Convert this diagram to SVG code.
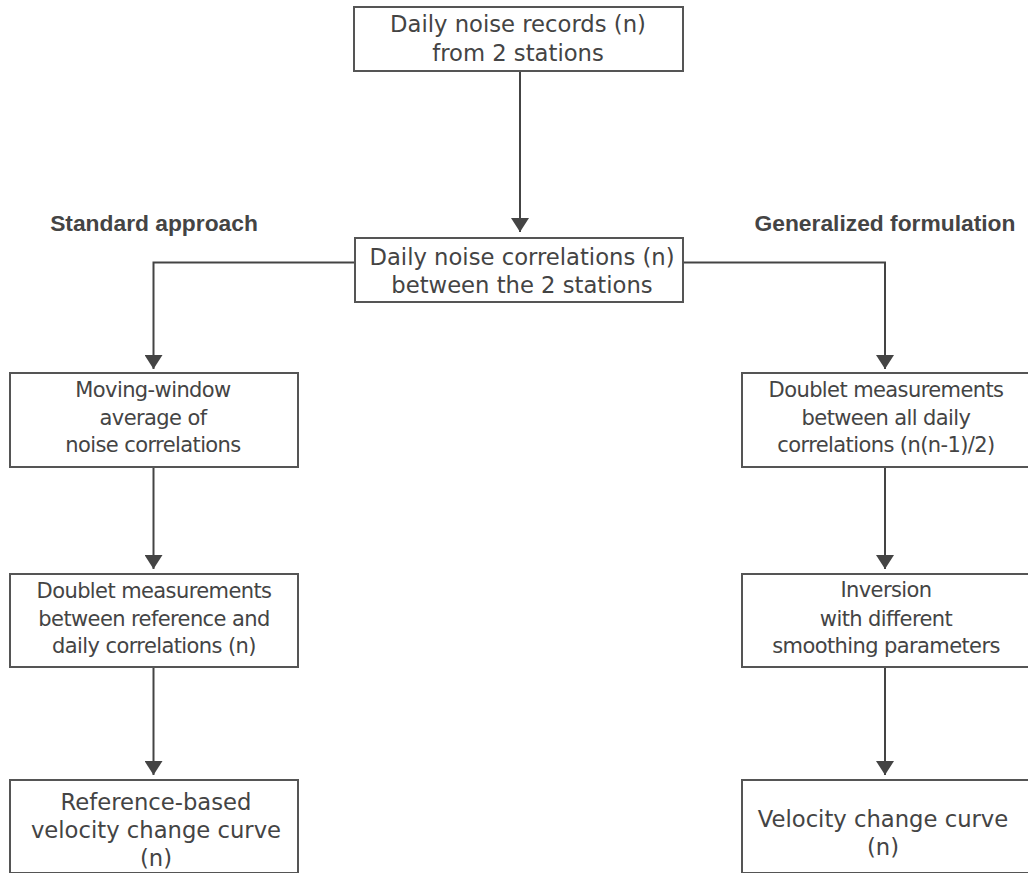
<svg xmlns="http://www.w3.org/2000/svg" width="1028" height="873" viewBox="0 0 1028 873">
  <defs>
    <marker id="arr" viewBox="0 0 14 18" refX="14" refY="9" markerWidth="14" markerHeight="18" markerUnits="userSpaceOnUse" orient="auto">
      <path d="M0,0 L14,9 L0,18 Z" fill="#444"/>
    </marker>
    <style>
      .box { fill: #fff; stroke: #555; stroke-width: 2; }
      .t { font-family: "DejaVu Sans", sans-serif; fill: #444; text-anchor: middle; }
      .big { font-size: 22.7px; }
      .small { font-size: 21px; letter-spacing: -0.6px; }
      .hdr { font-family: "Liberation Sans", Arial, sans-serif; font-weight: bold; font-size: 22.8px; fill: #444; text-anchor: middle; }
      .conn { fill: none; stroke: #444; stroke-width: 2; }
    </style>
  </defs>
  <rect width="1028" height="873" fill="#fff"/>

  <text class="hdr" x="154" y="231">Standard approach</text>
  <text class="hdr" x="885" y="231">Generalized formulation</text>

  <g id="connectors">
    <path class="conn" d="M520,71 V232" marker-end="url(#arr)"/>
    <path class="conn" d="M355,262.5 H153.5 V369" marker-end="url(#arr)"/>
    <path class="conn" d="M683,262.5 H885 V369" marker-end="url(#arr)"/>
    <path class="conn" d="M153.5,467 V569" marker-end="url(#arr)"/>
    <path class="conn" d="M153.5,667 V775" marker-end="url(#arr)"/>
    <path class="conn" d="M885,467 V569" marker-end="url(#arr)"/>
    <path class="conn" d="M885,667 V775" marker-end="url(#arr)"/>
  </g>

  <g id="records">
    <rect class="box" x="354" y="7" width="329" height="64"/>
    <text class="t big" x="518" y="32">Daily noise records (n)</text>
    <text class="t big" x="518" y="61">from 2 stations</text>
  </g>

  <g id="correlations">
    <rect class="box" x="355" y="238" width="328" height="64"/>
    <text class="t big" x="522" y="265">Daily noise correlations (n)</text>
    <text class="t big" x="522" y="293">between the 2 stations</text>
  </g>

  <g id="moving-window">
    <rect class="box" x="10" y="373" width="288" height="94"/>
    <text class="t small" x="153" y="397">Moving-window</text>
    <text class="t small" x="153" y="425">average of</text>
    <text class="t small" x="153" y="452">noise correlations</text>
  </g>

  <g id="doublet-all">
    <rect class="box" x="742" y="373" width="290" height="94"/>
    <text class="t small" x="886" y="397">Doublet measurements</text>
    <text class="t small" x="886" y="425">between all daily</text>
    <text class="t small" x="886" y="452">correlations (n(n-1)/2)</text>
  </g>

  <g id="doublet-ref">
    <rect class="box" x="10" y="574" width="288" height="93"/>
    <text class="t small" x="154" y="598">Doublet measurements</text>
    <text class="t small" x="154" y="626">between reference and</text>
    <text class="t small" x="154" y="653">daily correlations (n)</text>
  </g>

  <g id="inversion">
    <rect class="box" x="742" y="574" width="290" height="93"/>
    <text class="t small" x="886" y="597">Inversion</text>
    <text class="t small" x="886" y="626">with different</text>
    <text class="t small" x="886" y="653">smoothing parameters</text>
  </g>

  <g id="ref-curve">
    <rect class="box" x="10" y="780" width="288" height="93"/>
    <text class="t big" x="156" y="810">Reference-based</text>
    <text class="t big" x="156" y="838">velocity change curve</text>
    <text class="t big" x="156" y="866">(n)</text>
  </g>

  <g id="velocity-curve">
    <rect class="box" x="742" y="780" width="290" height="93"/>
    <text class="t big" x="883" y="827">Velocity change curve</text>
    <text class="t big" x="883" y="855">(n)</text>
  </g>
</svg>
